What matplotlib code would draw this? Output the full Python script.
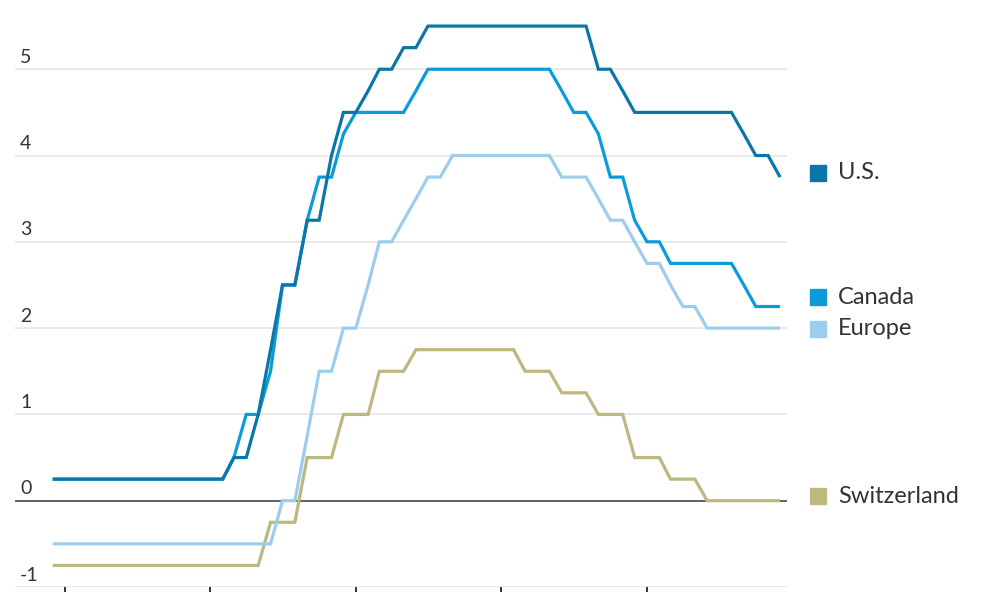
import matplotlib
matplotlib.use("Agg")
import matplotlib.pyplot as plt
import matplotlib.dates as mdates
import matplotlib.transforms as mtransforms
import pandas as pd
import datetime as dt

# ---------------- data (month-end policy rates, %) ----------------
months = pd.date_range("2020-12-01", "2025-12-01", freq="MS")

us = [0.25,
      0.25, 0.25, 0.25, 0.25, 0.25, 0.25, 0.25, 0.25, 0.25, 0.25, 0.25, 0.25,
      0.25, 0.25, 0.5, 0.5, 1.0, 1.75, 2.5, 2.5, 3.25, 3.25, 4.0, 4.5,
      4.5, 4.75, 5.0, 5.0, 5.25, 5.25, 5.5, 5.5, 5.5, 5.5, 5.5, 5.5,
      5.5, 5.5, 5.5, 5.5, 5.5, 5.5, 5.5, 5.5, 5.0, 5.0, 4.75, 4.5,
      4.5, 4.5, 4.5, 4.5, 4.5, 4.5, 4.5, 4.5, 4.25, 4.0, 4.0, 3.75]

canada = [0.25,
          0.25, 0.25, 0.25, 0.25, 0.25, 0.25, 0.25, 0.25, 0.25, 0.25, 0.25, 0.25,
          0.25, 0.25, 0.5, 1.0, 1.0, 1.5, 2.5, 2.5, 3.25, 3.75, 3.75, 4.25,
          4.5, 4.5, 4.5, 4.5, 4.5, 4.75, 5.0, 5.0, 5.0, 5.0, 5.0, 5.0,
          5.0, 5.0, 5.0, 5.0, 5.0, 4.75, 4.5, 4.5, 4.25, 3.75, 3.75, 3.25,
          3.0, 3.0, 2.75, 2.75, 2.75, 2.75, 2.75, 2.75, 2.5, 2.25, 2.25, 2.25]

europe = [-0.5,
          -0.5, -0.5, -0.5, -0.5, -0.5, -0.5, -0.5, -0.5, -0.5, -0.5, -0.5, -0.5,
          -0.5, -0.5, -0.5, -0.5, -0.5, -0.5, 0.0, 0.0, 0.75, 1.5, 1.5, 2.0,
          2.0, 2.5, 3.0, 3.0, 3.25, 3.5, 3.75, 3.75, 4.0, 4.0, 4.0, 4.0,
          4.0, 4.0, 4.0, 4.0, 4.0, 3.75, 3.75, 3.75, 3.5, 3.25, 3.25, 3.0,
          2.75, 2.75, 2.5, 2.25, 2.25, 2.0, 2.0, 2.0, 2.0, 2.0, 2.0, 2.0]

switzerland = [-0.75,
               -0.75, -0.75, -0.75, -0.75, -0.75, -0.75, -0.75, -0.75, -0.75, -0.75, -0.75, -0.75,
               -0.75, -0.75, -0.75, -0.75, -0.75, -0.25, -0.25, -0.25, 0.5, 0.5, 0.5, 1.0,
               1.0, 1.0, 1.5, 1.5, 1.5, 1.75, 1.75, 1.75, 1.75, 1.75, 1.75, 1.75,
               1.75, 1.75, 1.5, 1.5, 1.5, 1.25, 1.25, 1.25, 1.0, 1.0, 1.0, 0.5,
               0.5, 0.5, 0.25, 0.25, 0.25, 0.0, 0.0, 0.0, 0.0, 0.0, 0.0, 0.0]

series_names = ["U.S.", "Canada", "Europe", "Switzerland"]
series_values = [us, canada, europe, switzerland]
series_colors = ["#0b76a9", "#0c9bd9", "#9ccdef", "#beb880"]

y_ticks = [-1, 0, 1, 2, 3, 4, 5]
y_tick_labels = ["-1", "0", "1", "2", "3", "4", "5"]
x_tick_years = [2021, 2022, 2023, 2024, 2025]

# ---------------- figure ----------------
FONT = "Lato"
TEXT = "#333333"
GRID = "#e3e3e3"

fig = plt.figure(figsize=(10, 6), dpi=100)
ax = fig.add_axes([0.015, 0.02167, 0.772, 0.9708])

ax.set_ylim(-1, 5.75)
x0 = dt.datetime(2021, 1, 1) - dt.timedelta(days=125.5)
x1 = dt.datetime(2025, 1, 1) + dt.timedelta(days=351.4)
ax.set_xlim(mdates.date2num(x0), mdates.date2num(x1))

for s in ax.spines.values():
    s.set_visible(False)

# gridlines
for t in y_ticks:
    if t == 0:
        ax.axhline(t, color="#555555", lw=1.3, zorder=1)
    else:
        ax.axhline(t, color=GRID, lw=1.1, zorder=0)

# series (draw Switzerland first, US on top)
for name, vals, col in reversed(list(zip(series_names, series_values, series_colors))):
    ax.plot(months, vals, color=col, lw=2.3, solid_joinstyle="miter",
            solid_capstyle="butt", zorder=3)

# y tick labels inside the plot, above gridlines
ax.set_yticks([])
for t, lab in zip(y_ticks, y_tick_labels):
    ax.annotate(lab, xy=(0.0065, t), xycoords=("axes fraction", "data"),
                xytext=(0, 2.5), textcoords="offset points",
                ha="left", va="bottom", fontsize=14, color=TEXT, family=FONT)

# x ticks (no labels)
ax.set_xticks([mdates.date2num(dt.datetime(y, 1, 1)) for y in x_tick_years])
ax.tick_params(axis="x", direction="out", length=3.5, width=1.4,
               colors="#333333", labelbottom=False, pad=0)

# end labels: spread to avoid overlap
last = [v[-1] for v in series_values]
order = sorted(range(len(last)), key=lambda i: -last[i])
pos = [last[i] for i in order]
gap = 0.36
for _ in range(50):
    moved = False
    for k in range(len(pos) - 1):
        d = pos[k] - pos[k + 1]
        if d < gap:
            mid = (pos[k] + pos[k + 1]) / 2
            pos[k] = mid + gap / 2
            pos[k + 1] = mid - gap / 2
            moved = True
    if not moved:
        break
label_y = {order[k]: pos[k] + 0.05 for k in range(len(order))}

trans = mtransforms.blended_transform_factory(ax.transAxes, ax.transData)
for i, (name, col) in enumerate(zip(series_names, series_colors)):
    y = label_y[i]
    ax.plot([1.0402], [y], marker="s", markersize=11.5, color=col,
            transform=trans, clip_on=False, linestyle="none")
    ax.text(1.066, y, name, transform=trans, ha="left", va="center",
            fontsize=17, color=TEXT, family=FONT)

fig.savefig("out.png", dpi=100, facecolor="white")
